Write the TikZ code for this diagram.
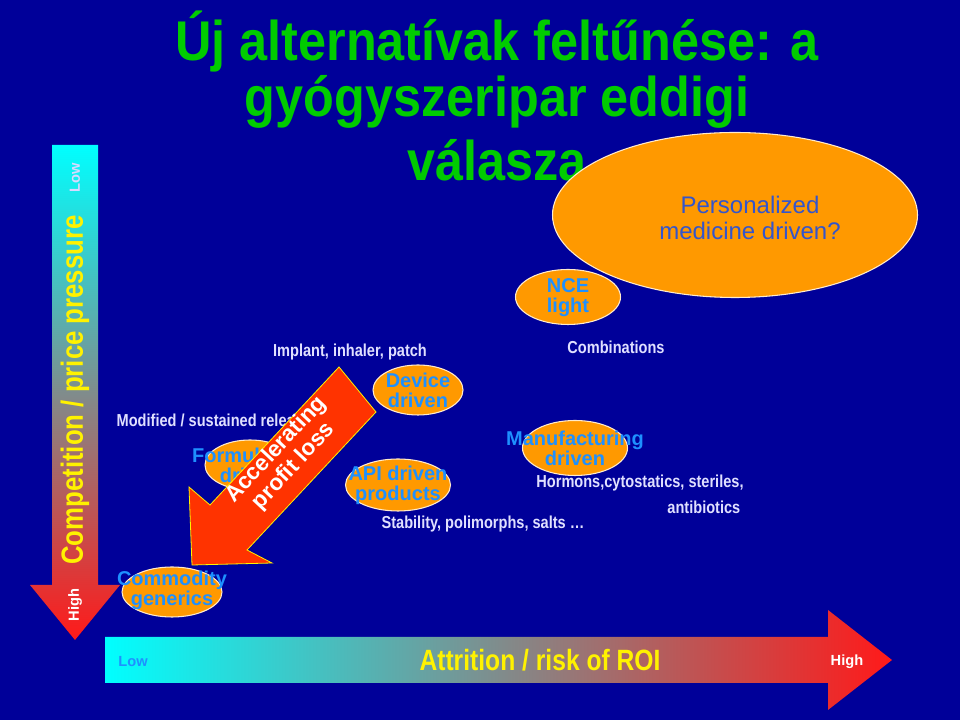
\documentclass[tikz,border=0pt]{standalone}
\usepackage{fontspec}
\setmainfont{Liberation Sans}
\newfontfamily\narrowfont[FakeStretch=0.84]{Liberation Sans}
\newfontfamily\titlefont[FakeStretch=0.9]{Liberation Sans}
\usetikzlibrary{shapes.geometric,positioning}
\definecolor{navy}{HTML}{000099}
\definecolor{blob}{HTML}{FF9900}
\definecolor{blobtxt}{HTML}{1E90FF}
\definecolor{titlegreen}{HTML}{00CC00}
\definecolor{arrowred}{HTML}{FF3300}
\definecolor{persblue}{HTML}{3355CC}
\tikzset{
  blob/.style args={#1x#2}{ellipse,fill=blob,draw=white!80!blob,line width=0.8pt,inner sep=0pt,
    minimum width={#1*0.75pt},minimum height={#2*0.75pt}},
  blobtext/.style={text=blobtxt,font=\fontsize{15}{15}\selectfont\bfseries,align=center},
  note/.style={text=white!88!blue,font=\narrowfont\fontsize{13}{14}\selectfont\bfseries},
  titletext/.style={text=titlegreen,font=\titlefont\fontsize{42}{43}\selectfont\bfseries}
}
\begin{document}
\begin{tikzpicture}[x=0.75pt,y=0.75pt]
    % Background
    \fill[navy] (0,0) rectangle (960,720);
    \useasboundingbox (0,0) rectangle (960,720);

    % Title
    \node[titletext] (t1) at (497,678) {Új alternatívak feltűnése: a};
    \node[titletext] (t2) at (497,618) {gyógyszeripar eddigi};
    \node[titletext] (t3) at (497,560) {válasza};

    % Vertical axis arrow
    \shade[top color=cyan,bottom color=red!90!white]
        (52,575) -- (98,575) -- (98,135) -- (120,135) -- (75,80) -- (30,135) -- (52,135) -- cycle;
    \node[rotate=90,text=white!85!blue,font=\fontsize{11}{11}\selectfont\bfseries] (vlow) at (75,542) {Low};
    \node[rotate=90,text=yellow,font=\narrowfont\fontsize{23}{23}\selectfont\bfseries] (vlab) at (75,330) {Competition / price pressure};
    \node[rotate=90,text=white,font=\fontsize{11}{11}\selectfont\bfseries] (vhigh) at (75,115) {High};

    % Horizontal axis arrow
    \shade[left color=cyan,right color=red!90!white]
        (105,83) -- (828,83) -- (828,110) -- (892,60) -- (828,10) -- (828,37) -- (105,37) -- cycle;
    \node[text=blobtxt,font=\fontsize{11}{11}\selectfont\bfseries] (hlow) at (133,58) {Low};
    \node[text=yellow,font=\narrowfont\fontsize{22}{22}\selectfont\bfseries] (hlab) at (540,60) {Attrition / risk of ROI};
    \node[text=white,font=\fontsize{11}{11}\selectfont\bfseries] (hhigh) at (847,58) {High};

    % Strategy ellipses
    \node[blob=100x50] (comm) at (172,128) {};
    \node[blob=90x50] (form) at (250,255) {};
    \node[blob=90x50] (dev) at (418,330) {};
    \node[blob=105x52] (api) at (398,235) {};
    \node[blob=105x55] (manu) at (575,272) {};
    \node[blob=105x55] (nce) at (568,423) {};
    \node[blobtext] at (172,130) {Commodity\\generics};
    \node[blobtext] at (250,255) {Formulation\\driven};
    \node[blobtext] at (418,330) {Device\\driven};
    \node[blobtext] at (398,235) {API driven\\products};
    \node[blobtext] at (575,272) {Manufacturing\\driven};
    \node[blobtext,align=left] at (568,422) {NCE\\light};
    \node[blob=365x165] (pers) at (735,505) {};
    \node[text=persblue,font=\fontsize{18}{20}\selectfont,align=center] at (750,502) {Personalized\\medicine driven?};

    % Notes
    \node[note] (impl) at (350,368) {Implant, inhaler, patch};
    \node[note,anchor=west] (modi) at (112,300) {Modified / sustained release};
    \node[note] (comb) at (616,373) {Combinations};
    \node[note] (horm) at (640,237) {Hormons,cytostatics, steriles,};
    \node[note,anchor=east] (anti) at (745,213) {antibiotics};
    \node[note] (stab) at (483,196) {Stability, polimorphs, salts \dots};

    % Accelerating profit loss arrow
    \fill[arrowred,draw=yellow,line width=0.6pt]
        (339,353) -- (376,308) -- (247,170) -- (272,157) -- (192,155) -- (189,233) -- (210,215) -- cycle;
    \node[rotate=47,text=white,font=\fontsize{17}{18}\selectfont\bfseries,align=center] (acc) at (285,262) {Accelerating\\profit loss};
\end{tikzpicture}
\end{document}
